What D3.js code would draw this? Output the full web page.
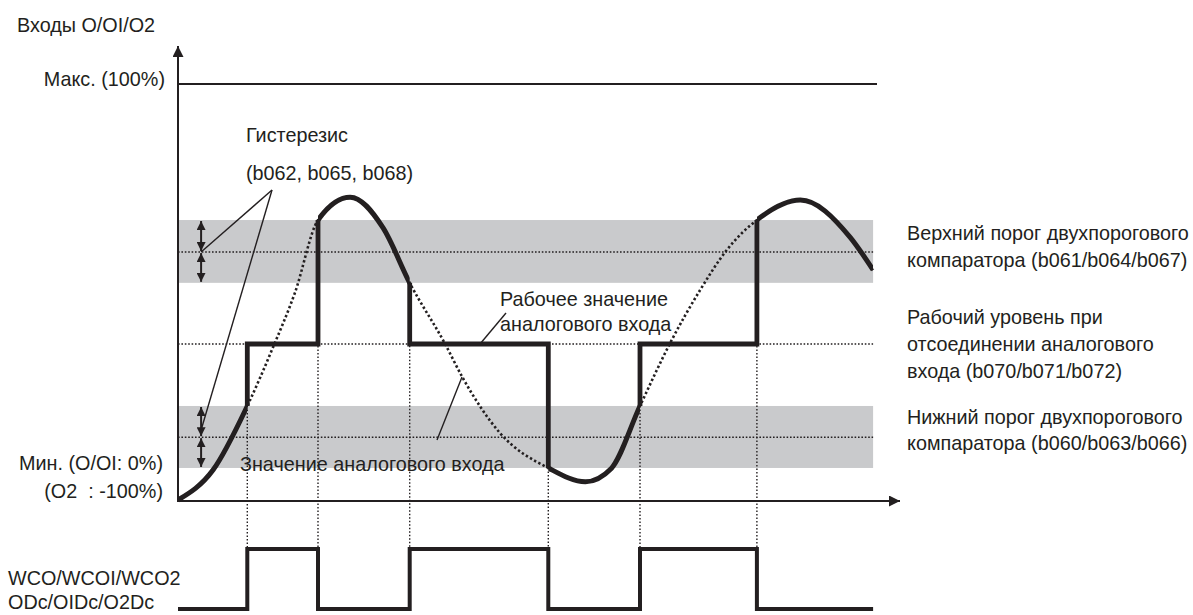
<!DOCTYPE html>
<html><head><meta charset="utf-8">
<script src="https://cdn.jsdelivr.net/npm/d3@7"></script>
<style>
html,body{margin:0;padding:0;background:#fff;}
svg text{font-family:"Liberation Sans",Arial,Helvetica,sans-serif;font-size:19.8px;fill:#231f20;}
</style></head>
<body><svg id="c" width="1193" height="615"></svg>
<script>
// ---- data ----
const analogT = [0, 5, 9.9, 13.6, 16.7, 20, 24.6, 29.3, 33.1, 38.1, 40.6, 46, 52.9, 58.2, 61.9, 66, 70.3, 74.6, 78.4, 82.7, 88.9, 96, 99.3];
const analogV = [0, 7.2, 22.6, 36.8, 49.8, 67.3, 72.8, 65.4, 52.2, 37.7, 29.6, 16.1, 7.7, 4.4, 7.6, 22.6, 37.7, 50.5, 60.1, 67.3, 72.1, 63.2, 55.3];
const switchT = [9.9, 20, 33.1, 52.9, 66, 82.7];
const switchV = [22.6, 67.3, 52.2, 7.7, 22.6, 67.3];
const outputState = [0, 1, 0, 1, 0, 1, 0];
const tEnd = 99.3;
const maxLevel = 100;
const upperBand = [52.2, 67.3];
const upperThreshold = 59.6;
const lowerBand = [7.7, 22.6];
const lowerThreshold = 15.1;
const operatingLevel = 37.5;
const rightLabels = [
  ["Верхний порог двухпорогового", "компаратора (b061/b064/b067)"],
  ["Рабочий уровень при", "отсоединении аналогового", "входа (b070/b071/b072)"],
  ["Нижний порог двухпорогового", "компаратора (b060/b063/b066)"]
];

// ---- scales ----
const svg = d3.select("#c");
const x = d3.scaleLinear().domain([0, 100]).range([178, 878]);
const y = d3.scaleLinear().domain([0, 100]).range([500, 84]);
const ys = d3.scaleLinear().domain([0, 1]).range([609, 549]);
const ink = "#231f20";

const defs = svg.append("defs");
function mk(id, orient, size){
  defs.append("marker").attr("id", id).attr("viewBox","0 0 10 10").attr("refX",10).attr("refY",5)
    .attr("markerWidth",size).attr("markerHeight",size).attr("markerUnits","userSpaceOnUse").attr("orient",orient)
    .append("path").attr("d","M0,0 L10,5 L0,10 Z").attr("fill",ink);
}
mk("ah","auto",11);
mk("sh","auto",9);
mk("shs","auto-start-reverse",9);

// bands
[upperBand, lowerBand].forEach(b => {
  svg.append("rect").attr("x", x(0)).attr("width", x(tEnd) - x(0))
    .attr("y", y(b[1])).attr("height", y(b[0]) - y(b[1])).attr("fill", "#c9cacc");
});
// horizontal dotted
[upperThreshold, operatingLevel, lowerThreshold].forEach(v => {
  svg.append("line").attr("x1", x(0)).attr("x2", x(tEnd)).attr("y1", y(v)).attr("y2", y(v))
    .attr("stroke", ink).attr("stroke-width", 1.6).attr("stroke-dasharray", "1.6,1.8");
});
// vertical dotted
switchT.forEach((t, i) => {
  svg.append("line").attr("x1", x(t)).attr("x2", x(t)).attr("y1", y(switchV[i])).attr("y2", ys(1))
    .attr("stroke", ink).attr("stroke-width", 1.4).attr("stroke-dasharray", "1.5,2");
});
// max line
svg.append("line").attr("x1", x(0)).attr("x2", x(0) + 699).attr("y1", y(maxLevel)).attr("y2", y(maxLevel))
  .attr("stroke", ink).attr("stroke-width", 1.8);
// axes
svg.append("line").attr("x1", x(0)).attr("x2", x(0)).attr("y1", y(0) + 1).attr("y2", 46)
  .attr("stroke", ink).attr("stroke-width", 2).attr("marker-end", "url(#ah)");
svg.append("line").attr("x1", x(0) - 1).attr("x2", 900).attr("y1", y(0) + 1).attr("y2", y(0) + 1)
  .attr("stroke", ink).attr("stroke-width", 2).attr("marker-end", "url(#ah)");

// analog curve (dotted)
const pts = analogT.map((t, i) => [t, analogV[i]]);
const lineGen = d3.line().x(d => x(d[0])).y(d => y(d[1])).curve(d3.curveMonotoneX);
svg.append("path").attr("d", lineGen(pts)).attr("fill", "none").attr("stroke", ink)
  .attr("stroke-width", 2.6).attr("stroke-dasharray", "2.4,2.4");

// operating value (thick)
const bounds = [0].concat(switchT).concat([tEnd]);
outputState.forEach((s, i) => {
  const t0 = bounds[i], t1 = bounds[i + 1];
  if (s === 0) {
    const cid = "clip" + i;
    defs.append("clipPath").attr("id", cid).append("rect")
      .attr("x", x(t0)).attr("width", x(t1) - x(t0)).attr("y", 0).attr("height", 615);
    svg.append("path").attr("d", lineGen(pts)).attr("fill", "none").attr("stroke", ink)
      .attr("stroke-width", 5).attr("clip-path", `url(#${cid})`);
  } else {
    const seg = [[t0, switchV[i - 1]], [t0, operatingLevel], [t1, operatingLevel], [t1, switchV[i]]];
    svg.append("path").attr("d", d3.line().x(d => x(d[0])).y(d => y(d[1]))(seg))
      .attr("fill", "none").attr("stroke", ink).attr("stroke-width", 4.8).attr("stroke-linejoin", "miter");
  }
});

// output signal
const sig = [[0, outputState[0]]];
outputState.forEach((s, i) => {
  const t1 = bounds[i + 1];
  sig.push([t1, s]);
  if (i + 1 < outputState.length) sig.push([t1, outputState[i + 1]]);
});
svg.append("path").attr("d", d3.line().x(d => x(d[0])).y(d => ys(d[1]))(sig))
  .attr("fill", "none").attr("stroke", ink).attr("stroke-width", 4).attr("stroke-linejoin", "miter");

// hysteresis double arrows
const ax = x(3.3);
[[upperBand[1], upperThreshold], [upperThreshold, upperBand[0]], [lowerBand[1], lowerThreshold], [lowerThreshold, lowerBand[0]]].forEach(p => {
  svg.append("line").attr("x1", ax).attr("x2", ax).attr("y1", y(p[0]) + 1).attr("y2", y(p[1]) - 1)
    .attr("stroke", ink).attr("stroke-width", 2)
    .attr("marker-start", "url(#shs)").attr("marker-end", "url(#sh)");
});

// leader lines
function leader(x1, y1, x2, y2){
  svg.append("line").attr("x1", x1).attr("y1", y1).attr("x2", x2).attr("y2", y2).attr("stroke", ink).attr("stroke-width", 1.4);
}
leader(272, 190, ax, y(upperThreshold));
leader(272, 190, ax, 430);
leader(480, y(operatingLevel), 506, 313);
leader(437, 440, 462, 377);

// texts
function txt(s, tx, ty, anchor){
  svg.append("text").attr("x", tx).attr("y", ty).attr("text-anchor", anchor || "start").text(s);
}
txt("Входы O/OI/O2", 17, 32);
txt("Макс. (100%)", 165, 86, "end");
txt("Гистерезис", 246, 142);
txt("(b062, b065, b068)", 246, 180);
txt("Рабочее значение", 500, 306);
txt("аналогового входа", 500, 331);
txt("Значение аналогового входа", 240, 471);
txt("Мин. (O/OI: 0%)", 163, 470, "end");
svg.append("text").attr("x", 163).attr("y", 498).attr("text-anchor", "end").style("white-space","pre").text("(O2  : -100%)");
txt("WCO/WCOI/WCO2", 8, 585);
txt("ODc/OIDc/O2Dc", 8, 609);
const rlY = [[240, 267], [324, 351, 378], [424, 450]];
rightLabels.forEach((g, i) => g.forEach((s, j) => txt(s, 907, rlY[i][j])));
</script></body></html>
